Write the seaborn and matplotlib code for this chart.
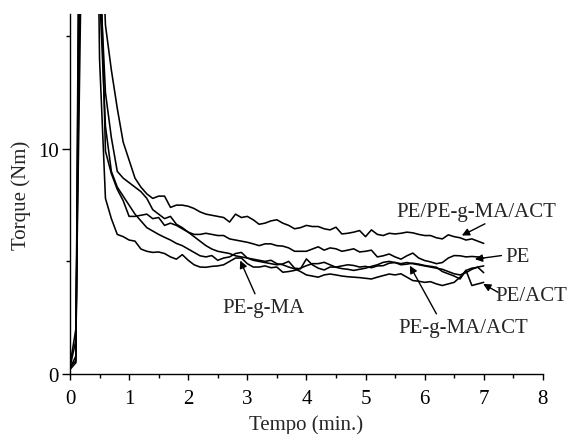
import numpy as np
import pandas as pd
import matplotlib
matplotlib.use("Agg")
import matplotlib.pyplot as plt
import seaborn as sns

# =====================================
# Data
# =====================================
tempo = [round(0.1 * i, 1) for i in range(71)]

pe_pegma_act = [0.2, 0.5, 40, 45, 35, 22, 15.5, 13.5, 11.8, 10.3,
                9.5, 8.7, 8.3, 8.0, 7.8, 7.9, 7.9, 7.4, 7.5, 7.5,
                7.45, 7.35, 7.2, 7.1, 7.05, 7.0, 6.95, 6.75, 7.1, 6.95,
                7.0, 6.85, 6.65, 6.7, 6.8, 6.85, 6.7, 6.6, 6.45, 6.5,
                6.6, 6.55, 6.55, 6.45, 6.4, 6.52, 6.22, 6.25, 6.3, 6.37,
                6.1, 6.4, 6.2, 6.15, 6.25, 6.22, 6.25, 6.3, 6.27, 6.2,
                6.15, 6.15, 6.05, 6.0, 6.18, 6.1, 6.05, 5.95, 6.0, 5.9,
                5.8]

pe = [0.3, 1.5, 25, 45, 35, 18, 12.5, 10.5, 9.0, 8.7,
      8.5, 8.3, 8.1, 7.8, 7.3, 7.1, 6.9, 7.0, 6.65, 6.5,
      6.3, 6.2, 6.2, 6.25, 6.2, 6.15, 6.15, 6.0, 5.95, 5.9,
      5.85, 5.78, 5.7, 5.78, 5.78, 5.7, 5.68, 5.6, 5.45, 5.45,
      5.45, 5.55, 5.65, 5.5, 5.6, 5.56, 5.45, 5.5, 5.56, 5.42,
      5.45, 5.5, 5.2, 5.25, 5.33, 5.2, 5.1, 5.25, 5.37, 5.15,
      5.04, 4.98, 4.9, 4.95, 5.15, 5.26, 5.25, 5.2, 5.22, 5.2,
      5.15]

pegma_act = [0.4, 2.0, 20, 45, 35, 17, 11.0, 9.0, 8.3, 7.9,
             7.5, 7.1, 6.8, 6.5, 6.35, 6.2, 6.07, 5.95, 5.8, 5.7,
             5.55, 5.4, 5.25, 5.2, 5.26, 5.05, 5.15, 5.2, 5.35, 5.4,
             5.15, 5.05, 5.0, 4.95, 4.9, 4.85, 4.89, 5.0, 4.7, 4.67,
             5.11, 4.85, 4.7, 4.62, 4.75, 4.75, 4.8, 4.85, 4.82, 4.75,
             4.78, 4.72, 4.8, 4.81, 4.92, 4.95, 4.85, 4.88, 4.92, 4.88,
             4.82, 4.78, 4.74, 4.55, 4.45, 4.35, 4.22, 4.6, 4.7, 4.74,
             4.5]

pegma = [0.3, 0.6, 35, 45, 35, 14, 7.8, 6.9, 6.2, 6.1,
         5.95, 5.9, 5.55, 5.45, 5.4, 5.42, 5.35, 5.2, 5.1, 5.3,
         5.05, 4.85, 4.75, 4.74, 4.78, 4.8, 4.85, 5.0, 5.15, 5.15,
         4.9, 4.75, 4.75, 4.8, 4.72, 4.75, 4.52, 4.55, 4.6, 4.7,
         4.81, 4.9, 4.9, 4.96, 4.85, 4.74, 4.68, 4.65, 4.6, 4.65,
         4.7, 4.78, 4.85, 4.96, 5.0, 4.95, 4.9, 4.95, 4.9, 4.85,
         4.8, 4.75, 4.7, 4.65, 4.55, 4.45, 4.4, 4.5, 4.65, 4.75,
         4.8]

pe_act = [0.25, 0.8, 30, 45, 35, 20, 9.9, 8.9, 8.2, 7.7,
          7.0, 7.0, 7.05, 7.1, 6.9, 6.95, 6.6, 6.7, 6.6, 6.45,
          6.3, 6.1, 5.9, 5.7, 5.55, 5.45, 5.4, 5.35, 5.25, 5.2,
          5.15, 5.1, 5.05, 5.0, 5.05, 4.9, 4.85, 4.75, 4.67, 4.55,
          4.4, 4.35, 4.3, 4.4, 4.44, 4.4, 4.35, 4.32, 4.3, 4.28,
          4.25, 4.22, 4.3, 4.37, 4.44, 4.4, 4.45, 4.3, 4.15, 4.12,
          4.07, 4.1, 4.0, 3.93, 4.0, 4.07, 4.3, 4.6, 3.93, 4.0,
          4.07]

series = {
    "PE/PE-g-MA/ACT": pe_pegma_act,
    "PE": pe,
    "PE-g-MA/ACT": pegma_act,
    "PE-g-MA": pegma,
    "PE/ACT": pe_act,
}

df = pd.concat(
    [pd.DataFrame({"tempo": tempo, "torque": vals, "amostra": name})
     for name, vals in series.items()],
    ignore_index=True,
)

# =====================================
# Plot
# =====================================
sns.set_style("ticks")
plt.rcParams["font.family"] = ["Liberation Serif", "DejaVu Serif"]
FS = 15

fig = plt.figure(figsize=(5.69, 4.35), dpi=100)
ax = fig.add_axes([0.123, 0.138, 0.831, 0.828])

sns.lineplot(data=df, x="tempo", y="torque", units="amostra",
             estimator=None, color="black", lw=1.15, ax=ax)

ax.set_xlim(0, 8)
ax.set_ylim(0, 16)
ax.set_xticks(range(9))
ax.set_xticks(np.arange(0, 8.01, 0.5), minor=True)
ax.set_yticks([0, 10])
ax.set_yticks([5, 15], minor=True)
ax.tick_params(axis="both", which="major", labelsize=FS, direction="out",
               length=6, width=1, colors="black", pad=2)
ax.tick_params(axis="both", which="minor", direction="out", length=3,
               width=1, colors="black")
ax.tick_params(axis="x", which="major", length=4, pad=7)
ax.set_xlabel("Tempo (min.)", fontsize=FS, labelpad=4)
ax.set_ylabel("Torque (Nm)", fontsize=FS, labelpad=5)
sns.despine(ax=ax)
for side in ["left", "bottom"]:
    ax.spines[side].set_color("black")
    ax.spines[side].set_linewidth(1)

# labels with arrows
labels = [
    ("PE/PE-g-MA/ACT", (5.52, 7.2), "left", (7.02, 6.67), (6.63, 6.15)),
    ("PE", (7.36, 5.2), "left", (7.3, 5.26), (6.85, 5.1)),
    ("PE/ACT", (7.2, 3.48), "left", (7.24, 3.63), (6.99, 4.0)),
    ("PE-g-MA/ACT", (6.65, 2.08), "center", (6.2, 2.67), (5.75, 4.81)),
    ("PE-g-MA", (3.27, 2.97), "center", (3.13, 3.56), (2.88, 5.04)),
]
for text, pos, ha, tail, tip in labels:
    ax.text(pos[0], pos[1], text, ha=ha, va="center", fontsize=FS,
            clip_on=False)
    ax.annotate("", xy=tip, xytext=tail, annotation_clip=False,
                arrowprops=dict(arrowstyle="-|>", color="black", lw=1,
                                mutation_scale=11, shrinkA=0, shrinkB=0))

fig.savefig("out.png", dpi=100)
